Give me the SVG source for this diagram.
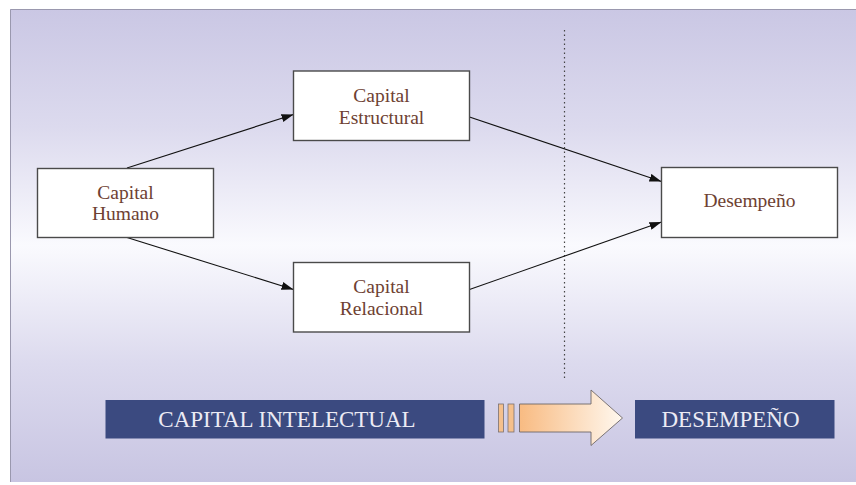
<svg xmlns="http://www.w3.org/2000/svg" width="856" height="485" viewBox="0 0 856 485">
<defs>
<linearGradient id="bg" x1="0" y1="0" x2="0" y2="1">
<stop offset="0" stop-color="#cac7e4"/>
<stop offset="0.25" stop-color="#dcdaee"/>
<stop offset="0.5" stop-color="#fafafe"/>
<stop offset="0.75" stop-color="#dcdaee"/>
<stop offset="1" stop-color="#c8c5e2"/>
</linearGradient>
<linearGradient id="arr" x1="0" y1="0" x2="1" y2="0">
<stop offset="0" stop-color="#f8bb82"/>
<stop offset="1" stop-color="#fff8ef"/>
</linearGradient>
<marker id="ah" viewBox="0 0 12 8" refX="12" refY="4" markerWidth="12" markerHeight="8" markerUnits="userSpaceOnUse" orient="auto">
<path d="M0,0 L12,4 L0,8 Z" fill="#111"/>
</marker>
<style>
.box{fill:#fff;stroke:#4a4a4a;stroke-width:1.4}
.lbl{font-family:"Liberation Serif","Times New Roman",serif;font-size:19.5px;fill:#6e4132;text-anchor:middle}
.bar{fill:#3b4a80}
.btxt{font-family:"Liberation Serif","Times New Roman",serif;font-size:23px;fill:#ecebf4;text-anchor:middle}
.edge{stroke:#111;stroke-width:1.1;fill:none;marker-end:url(#ah)}
</style>
</defs>
<rect x="0" y="0" width="856" height="485" fill="#fff"/>
<rect x="10" y="9" width="846" height="473" fill="url(#bg)"/>
<path d="M10.5,482 L10.5,9.5 L856,9.5" fill="none" stroke="#9a98ae" stroke-width="1"/>
<line x1="564.5" y1="30" x2="564.5" y2="381" stroke="#444" stroke-width="1.2" stroke-dasharray="1.5,3"/>
<g id="connectors">
<line class="edge" x1="127" y1="168" x2="293.5" y2="114.5"/>
<line class="edge" x1="127" y1="237.5" x2="293.5" y2="289.5"/>
<line class="edge" x1="469.5" y1="117" x2="661.5" y2="181.5"/>
<line class="edge" x1="469.5" y1="289.5" x2="661.5" y2="222"/>
</g>
<g id="humano">
<rect class="box" x="37.5" y="168.5" width="176" height="69"/>
<text class="lbl" x="125.5" y="199">Capital</text>
<text class="lbl" x="125.5" y="220">Humano</text>
</g>
<g id="estructural">
<rect class="box" x="293.5" y="71" width="176" height="69.5"/>
<text class="lbl" x="381.5" y="101.5">Capital</text>
<text class="lbl" x="381.5" y="123.5">Estructural</text>
</g>
<g id="relacional">
<rect class="box" x="293.5" y="262.5" width="176" height="69.5"/>
<text class="lbl" x="381.5" y="293">Capital</text>
<text class="lbl" x="381.5" y="314.5">Relacional</text>
</g>
<g id="desempeno">
<rect class="box" x="661.5" y="167.5" width="176" height="70"/>
<text class="lbl" x="749.5" y="207">Desempeño</text>
</g>
<g id="capital-intelectual">
<rect class="bar" x="105.5" y="400" width="379" height="38.5"/>
<text class="btxt" x="287" y="426.5">CAPITAL INTELECTUAL</text>
</g>
<g id="transition-arrow">
<rect x="498.5" y="404" width="5" height="28" fill="#f5c08c" stroke="#7a7070" stroke-width="0.8"/>
<rect x="508" y="404" width="6" height="28" fill="#f5c08c" stroke="#7a7070" stroke-width="0.8"/>
<polygon points="519.5,404 591,404 591,390 622.5,418 591,445.5 591,432 519.5,432" fill="url(#arr)" stroke="#6e6868" stroke-width="0.9"/>
</g>
<g id="desempeno-bar">
<rect class="bar" x="635" y="400" width="199.5" height="38.5"/>
<text class="btxt" x="730.5" y="427">DESEMPEÑO</text>
</g>
</svg>
